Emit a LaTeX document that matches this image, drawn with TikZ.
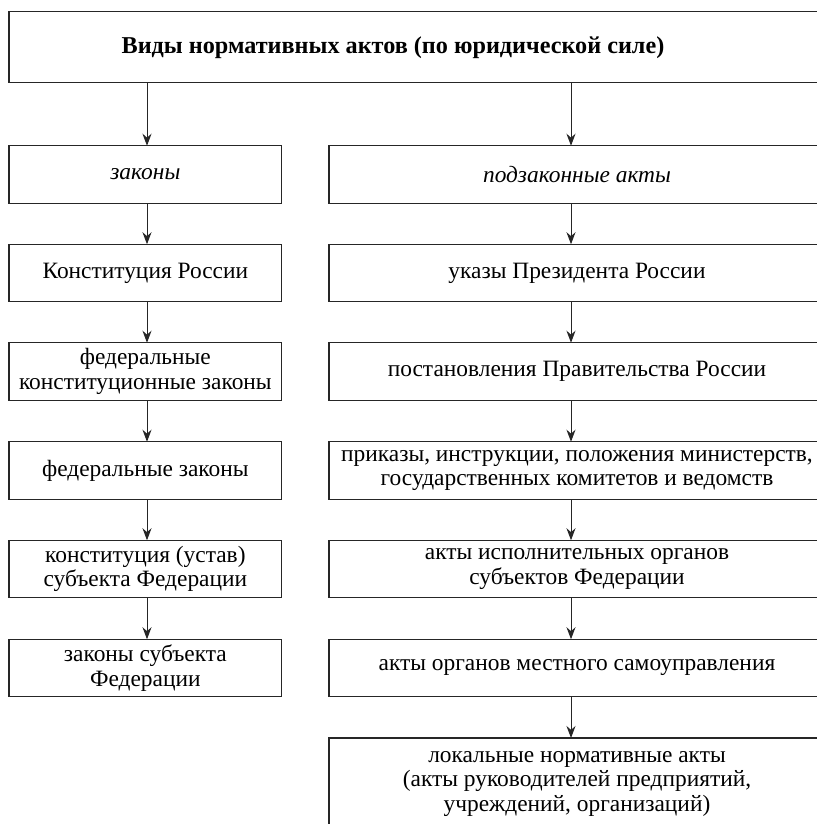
\documentclass[tikz,border=0pt]{standalone}
\usepackage{fontspec}
\setmainfont{Liberation Serif}
\usetikzlibrary{arrows.meta}
\tikzset{
  box/.style={draw=black!85, line width=1.1pt, rectangle, inner sep=0pt, outer sep=0pt,
    align=center, font=\fontsize{23.4}{24.5}\selectfont},
  lbox/.style={box, minimum width=272.7pt, minimum height=57.5pt},
  rbox/.style={box, minimum width=496pt, minimum height=57.5pt},
  arr/.style={draw=black!85, line width=1pt, -{Stealth[length=12pt,width=9pt]}},
  txt/.style={inner sep=0pt, align=center, font=\fontsize{23.4}{24.5}\selectfont}
}
\begin{document}
\begin{tikzpicture}[x=1pt,y=-1pt]
\useasboundingbox (0,0) rectangle (816,824);
\fill[white] (0,0) rectangle (816,824);
% top
\node[box, minimum width=816pt, minimum height=71.3pt] (top) at (417,47.3) {};
\node[txt, font=\fontsize{24.2}{25}\selectfont\bfseries] (title) at (393,47.3) {Виды нормативных актов (по юридической силе)};
% arrow columns
\coordinate (la) at (147,0);
\coordinate (ra) at (571,0);
% left column
\node[lbox] (l1) at (145.35,174.5) {\itshape законы};
\node[lbox] (l2) at (145.35,273) {Конституция России};
\node[lbox] (l3) at (145.35,371.5) {федеральные\\конституционные законы};
\node[lbox] (l4) at (145.35,470.5) {федеральные законы};
\node[lbox] (l5) at (145.35,569) {конституция (устав)\\субъекта Федерации};
\node[lbox] (l6) at (145.35,668) {законы субъекта\\Федерации};
% right column
\node[rbox] (r1) at (577,174.5) {\itshape подзаконные акты};
\node[rbox] (r2) at (577,273) {указы Президента России};
\node[rbox] (r3) at (577,371.5) {постановления Правительства России};
\node[rbox] (r4) at (577,470.5) {приказы, инструкции, положения министерств,\\государственных комитетов и ведомств};
\node[rbox] (r5) at (577,569) {акты исполнительных органов\\субъектов Федерации};
\node[rbox] (r6) at (577,668) {акты органов местного самоуправления};
\node[box, minimum width=496pt, minimum height=100pt] (r7) at (577,788) {};
\node[txt] (r7t) at (577,784) {локальные нормативные акты\\(акты руководителей предприятий,\\учреждений, организаций)};
% arrows
\draw[arr] (top.south -| la) -- (l1.north -| la);
\draw[arr] (top.south -| ra) -- (r1.north -| ra);
\draw[arr] (l1.south -| la) -- (l2.north -| la);
\draw[arr] (l2.south -| la) -- (l3.north -| la);
\draw[arr] (l3.south -| la) -- (l4.north -| la);
\draw[arr] (l4.south -| la) -- (l5.north -| la);
\draw[arr] (l5.south -| la) -- (l6.north -| la);
\draw[arr] (r1.south -| ra) -- (r2.north -| ra);
\draw[arr] (r2.south -| ra) -- (r3.north -| ra);
\draw[arr] (r3.south -| ra) -- (r4.north -| ra);
\draw[arr] (r4.south -| ra) -- (r5.north -| ra);
\draw[arr] (r5.south -| ra) -- (r6.north -| ra);
\draw[arr] (r6.south -| ra) -- (r7.north -| ra);
\end{tikzpicture}
\end{document}
